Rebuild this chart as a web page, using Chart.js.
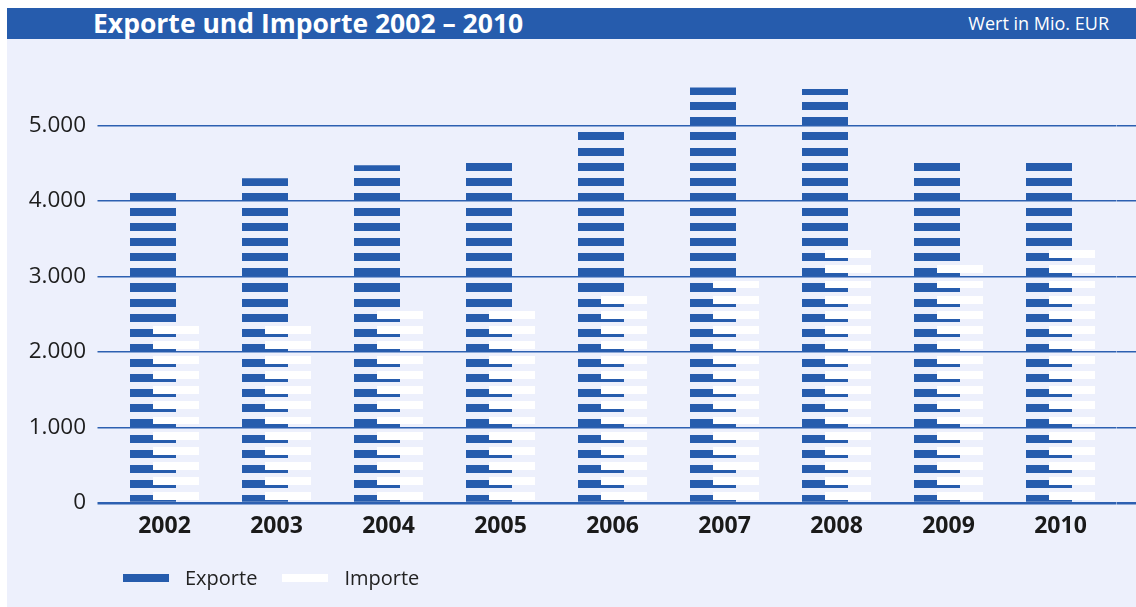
<!DOCTYPE html>
<html>
<head>
<meta charset="utf-8">
<script src="https://cdn.jsdelivr.net/npm/chart.js@4.4.1/dist/chart.umd.min.js"></script>
<style>
  html, body { margin: 0; padding: 0; background: #fff; width: 1136px; height: 607px; overflow: hidden; }
  body { font-family: "Open Sans", sans-serif; position: relative; }
  #frame { position: absolute; left: 7px; top: 8px; width: 1129px; height: 599px; background: #edf0fc; }
  #head { position: absolute; left: 0; top: 0; width: 100%; height: 31px; background: #265cad; color: #fff; }
  #title { position: absolute; left: 86px; top: 0; line-height: 31px; font-weight: 700; font-size: 26.5px; }
  #unit { position: absolute; right: 27px; top: 0; line-height: 31px; font-size: 18px; }
  #wrap { position: absolute; left: 0; top: 0; width: 1136px; height: 607px; }
  #legend { position: absolute; left: 123px; top: 564px; display: flex; font-size: 20px; color: #222; }
  #legend span.item { display: flex; align-items: center; margin-right: 25px; }
  #legend span.box { display: inline-block; width: 46px; height: 8px; margin-right: 16px; }
</style>
</head>
<body>
<div id="frame">
  <div id="head">
    <div id="title">Exporte und Importe 2002 – 2010</div>
    <div id="unit">Wert in Mio. EUR</div>
  </div>
</div>
<div id="wrap"><canvas id="chart"></canvas></div>
<div id="legend"></div>
<script>
// Exporte / Importe in Mio. EUR
const years = ["2002", "2003", "2004", "2005", "2006", "2007", "2008", "2009", "2010"];
const exporte = [4110, 4300, 4470, 4515, 4910, 5500, 5480, 4515, 4515];
const importe = [2360, 2360, 2555, 2555, 2755, 2950, 3350, 3150, 3350];
const yTicks = [0, 1000, 2000, 3000, 4000, 5000];

const BLUE = "#265cad";
const WHITE = "#ffffff";
const GRID = "#2d60b1";
const STEP = 200; // one stripe per 200 Mio.

// tile of one stripe period; lo/hi = share of the period, from its bottom
const tile = (color, lo, hi) => {
  const c = document.createElement("canvas");
  c.width = 4; c.height = 200;
  const g = c.getContext("2d");
  g.fillStyle = color;
  g.fillRect(0, 200 - hi * 200, 4, (hi - lo) * 200);
  return c;
};
const tiles = { ex: tile(BLUE, 0, 0.53), im: tile(WHITE, 0.2, 0.725) };

const striped = (key, fallback) => (c) => {
  const ch = c.chart, y = ch.scales.y;
  if (!y) return fallback;
  const p = ch.ctx.createPattern(tiles[key], "repeat");
  const y0 = y.getPixelForValue(0);
  const per = y0 - y.getPixelForValue(STEP);
  p.setTransform(new DOMMatrix([1, 0, 0, per / 200, 0, y0 - per]));
  return p;
};

const fmt = (v) => String(v).replace(/\B(?=(\d{3})+(?!\d))/g, ".");

// imports sit right of exports but are drawn on top of them
const drawOrder = {
  id: "drawOrder",
  beforeDatasetsDraw(chart) {
    chart.ctx.save();
    chart.ctx.imageSmoothingEnabled = false;
    chart.getDatasetMeta(0).controller.draw();
    chart.getDatasetMeta(1).controller.draw();
    chart.ctx.restore();
    return false;
  },
};

const datasets = [
  { label: "Exporte", data: exporte, color: BLUE, backgroundColor: striped("ex", BLUE) },
  { label: "Importe", data: importe, color: WHITE, backgroundColor: striped("im", WHITE) },
];

const legend = document.getElementById("legend");
datasets.forEach((d) => {
  const s = document.createElement("span");
  s.className = "item";
  s.innerHTML = `<span class="box" style="background:${d.color}"></span>${d.label}`;
  legend.appendChild(s);
});

const yCommon = {
  min: 0, max: 5600,
  afterBuildTicks: (s) => { s.ticks = yTicks.map((v) => ({ value: v })); },
  border: { display: false },
};

new Chart(document.getElementById("chart"), {
  type: "bar",
  data: {
    labels: years,
    datasets: datasets.map((d) => ({
      label: d.label, data: d.data, backgroundColor: d.backgroundColor,
      borderWidth: 0, categoryPercentage: 46 / 112, barPercentage: 2,
    })),
  },
  plugins: [drawOrder],
  options: {
    responsive: true, maintainAspectRatio: false, animation: false,
    layout: { padding: { top: 80, right: 0, bottom: 64.4, left: 0 } },
    plugins: { legend: { display: false }, tooltip: { enabled: false } },
    scales: {
      x: {
        grid: { display: false }, border: { display: false },
        ticks: { color: "#1a1a1a", padding: 2, font: { family: "Open Sans", size: 23, weight: 700 } },
      },
      y: {
        ...yCommon, position: "left",
        afterFit: (s) => { s.width = 108.5; },
        grid: { color: GRID, lineWidth: (c) => (c.tick && c.tick.value === 0 ? 2.5 : 1.5), tickLength: 11 },
        ticks: { color: "#1d1d1d", padding: 11.5, callback: (v) => fmt(v),
                 font: { family: "Open Sans", size: 22.5 } },
      },
      y2: {
        ...yCommon, position: "right",
        afterFit: (s) => { s.width = 19.5; },
        grid: { drawOnChartArea: false, color: GRID,
                lineWidth: (c) => (c.tick && c.tick.value === 0 ? 2.5 : 1.5), tickLength: 20 },
        ticks: { display: false },
      },
    },
  },
});
</script>
</body>
</html>
